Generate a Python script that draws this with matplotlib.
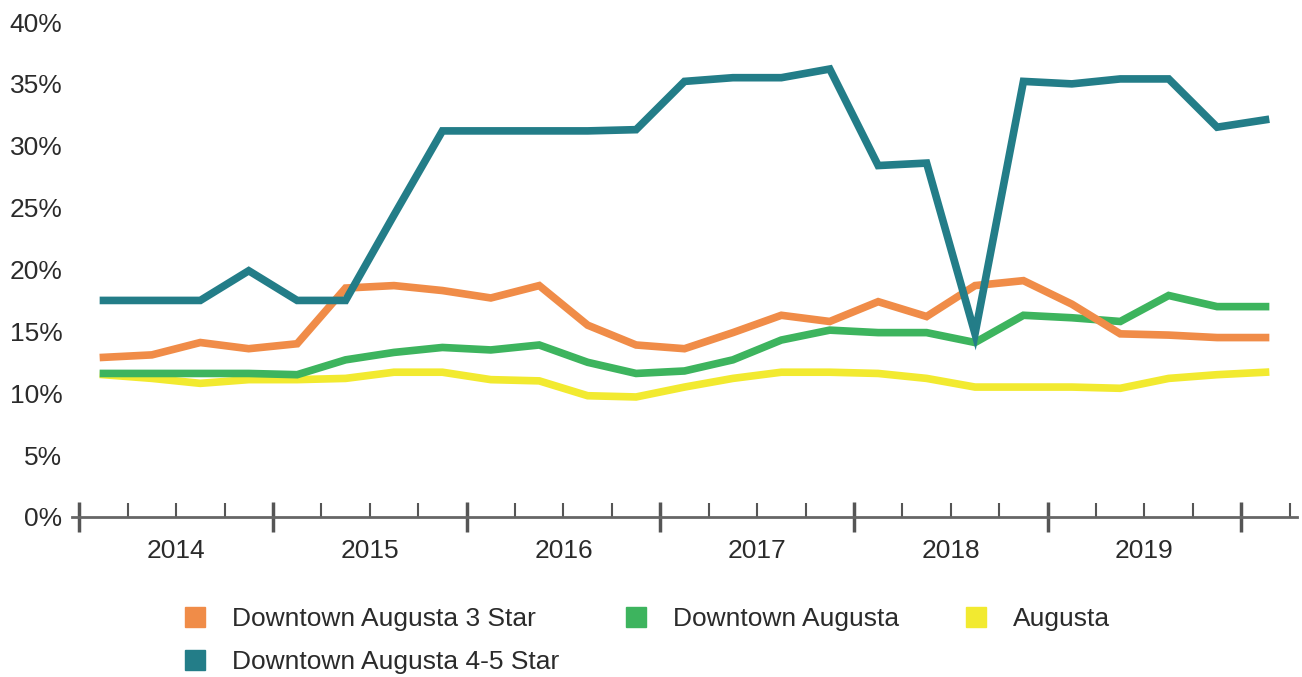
import matplotlib.pyplot as plt
import numpy as np
from matplotlib.lines import Line2D
from matplotlib.ticker import FixedLocator, FixedFormatter, FuncFormatter

# -----------------------------------------------------------------------------------------------
# Datos (porcentaje por trimestre, 2014 T1 - 2020 T1)
# -----------------------------------------------------------------------------------------------
years = ["2014", "2015", "2016", "2017", "2018", "2019"]

star3 = [12.9, 13.1, 14.1, 13.6, 14.0, 18.5, 18.7, 18.3, 17.7, 18.7, 15.5, 13.9, 13.6,
         14.9, 16.3, 15.8, 17.4, 16.2, 18.7, 19.1, 17.2, 14.8, 14.7, 14.5, 14.5]
star45 = [17.5, 17.5, 17.5, 19.9, 17.5, 17.5, 24.4, 31.2, 31.2, 31.2, 31.2, 31.3, 35.2,
          35.5, 35.5, 36.2, 28.4, 28.6, 14.8, 35.2, 35.0, 35.4, 35.4, 31.5, 32.1]
downtown = [11.6, 11.6, 11.6, 11.6, 11.5, 12.7, 13.3, 13.7, 13.5, 13.9, 12.5, 11.6, 11.8,
            12.7, 14.3, 15.1, 14.9, 14.9, 14.1, 16.3, 16.1, 15.8, 17.9, 17.0, 17.0]
augusta = [11.5, 11.2, 10.8, 11.1, 11.1, 11.2, 11.7, 11.7, 11.1, 11.0, 9.8, 9.7, 10.5,
           11.2, 11.7, 11.7, 11.6, 11.2, 10.5, 10.5, 10.5, 10.4, 11.2, 11.5, 11.7]

# Colores
c_orange = "#F08C48"
c_teal = "#237D88"
c_green = "#3DB45E"
c_yellow = "#F2EA30"
c_text = "#2B2B2B"

# -----------------------------------------------------------------------------------------------
# Gráfico
# -----------------------------------------------------------------------------------------------
plt.rcParams["font.family"] = ["Liberation Sans", "DejaVu Sans"]

fig = plt.figure(figsize=[13.02, 6.77], dpi=100)
ax = fig.add_axes([72 / 1302, 160 / 677, 1225 / 1302, 495 / 677])

# Cada punto en el centro de su trimestre
x = np.arange(len(star3)) + 0.5
ax.plot(x, augusta, color=c_yellow, lw=5.5, solid_joinstyle="miter")
ax.plot(x, downtown, color=c_green, lw=5.5, solid_joinstyle="miter")
ax.plot(x, star3, color=c_orange, lw=5.5, solid_joinstyle="miter")
ax.plot(x, star45, color=c_teal, lw=5.5, solid_joinstyle="miter")

# Formato de ejes
ax.set_xlim(-0.15, 25.15)
ax.set_ylim(0, 40)
ax.set_yticks(np.arange(0, 41, 5))
ax.yaxis.set_major_formatter(FuncFormatter(lambda v, p: f"{v:.0f}%"))
ax.tick_params(axis="y", length=0, pad=7, labelsize=19, labelcolor=c_text)

# Ticks mayores (años) y menores (trimestres)
major = np.arange(0, 25, 4)
minor = [i for i in range(1, 26) if i % 4 != 0]
minor_labels = []
for i in minor:
    if i % 4 == 2 and i // 4 < len(years):
        minor_labels.append(years[i // 4])
    else:
        minor_labels.append("")
ax.xaxis.set_major_locator(FixedLocator(major))
ax.xaxis.set_major_formatter(FixedFormatter([""] * len(major)))
ax.xaxis.set_minor_locator(FixedLocator(minor))
ax.xaxis.set_minor_formatter(FixedFormatter(minor_labels))
ax.tick_params(axis="x", which="major", direction="inout", length=22, width=2.5,
               color="#555555")
ax.tick_params(axis="x", which="minor", direction="in", length=10, width=1.5,
               color="#555555", pad=16, labelsize=19, labelcolor=c_text)

for s in ["top", "right", "left"]:
    ax.spines[s].set_visible(False)
ax.spines["bottom"].set_color("#666666")
ax.spines["bottom"].set_linewidth(2)

# Leyenda
handles = [
    Line2D([], [], ls="", marker="s", ms=15, color=c_orange, label="Downtown Augusta 3 Star"),
    Line2D([], [], ls="", marker="s", ms=15, color=c_teal, label="Downtown Augusta 4-5 Star"),
    Line2D([], [], ls="", marker="s", ms=15, color=c_green, label="Downtown Augusta"),
    Line2D([], [], ls="", marker="s", ms=15, color=c_yellow, label="Augusta"),
]
fig.legend(handles=handles, loc="upper left", bbox_to_anchor=(182 / 1302, 1 - 607 / 677),
           ncol=3, frameon=False, fontsize=19, handlelength=1.0, handletextpad=0.9,
           columnspacing=2.4, labelspacing=0.72, borderaxespad=0, borderpad=0,
           labelcolor=c_text)

fig.savefig("out.png", dpi=100)
